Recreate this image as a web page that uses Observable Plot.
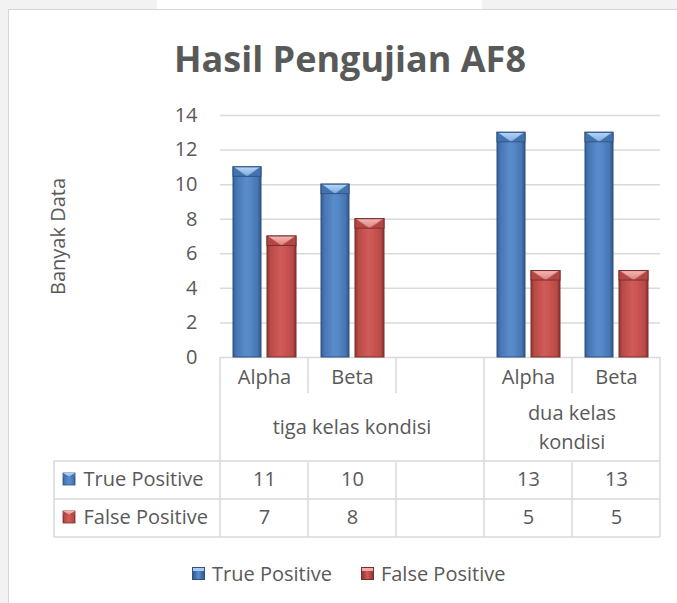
<!DOCTYPE html>
<html>
<head>
<meta charset="utf-8">
<script src="https://cdn.jsdelivr.net/npm/d3@7"></script>
<script src="https://cdn.jsdelivr.net/npm/@observablehq/plot@0.6"></script>
<style>
  html, body { margin: 0; padding: 0; }
  body { width: 677px; height: 603px; overflow: hidden; background: #f2f2f2; position: relative;
         font-family: "Open Sans", sans-serif; color: #595959; }
  #tab { position: absolute; left: 157px; top: 0; width: 325px; height: 10px; background: #fff; }
  #frame { position: absolute; left: 8px; top: 9px; width: 760px; height: 660px; background: #fff;
           border: 1.5px solid #d6d6d6; box-sizing: border-box; }
  #title { position: absolute; left: 0; width: 700px; top: 41px; text-align: center;
           font-weight: 700; font-size: 36px; line-height: 36px; color: #595959; }
  #chart { position: absolute; left: 0; top: 0; }
  #legend { position: absolute; left: 192px; top: 560px; height: 26px; display: flex; align-items: center;
            font-size: 20px; color: #595959; white-space: nowrap; }
  .sw { width: 13px; height: 13px; margin-right: 7px; box-sizing: border-box; }
  .item { display: flex; align-items: center; margin-right: 29px; }
</style>
</head>
<body>
<div id="tab"></div>
<div id="frame"></div>
<div id="chart"></div>
<div id="title">Hasil Pengujian AF8</div>
<div id="legend"></div>
<script>
// ---- data ----
const groups = ["tiga kelas kondisi", "tiga kelas kondisi", "tiga kelas kondisi", "dua kelas kondisi", "dua kelas kondisi"];
const subLabels = ["Alpha", "Beta", "", "Alpha", "Beta"];
const series = ["True Positive", "False Positive"];
const truePositive = [11, 10, null, 13, 13];
const falsePositive = [7, 8, null, 5, 5];
const yTicks = [0, 2, 4, 6, 8, 10, 12, 14];
const yTitle = "Banyak Data";

// ---- styling ----
const textColor = "#595959";
const lineColor = "#d9d9d9";
const seriesStyle = {
  "True Positive": { grad: "url(#gBlue)", cap: "url(#capBlue)", stroke: "#2f5183", insetLeft: 13, insetRight: 47,
                     css: "linear-gradient(to bottom, #a9cbf3 0 30%, transparent 30%), linear-gradient(to right, #2f5a92, #5b8dcc 50%, #2f5a92)", border: "#2f5183" },
  "False Positive": { grad: "url(#gRed)", cap: "url(#capRed)", stroke: "#7a2e2c", insetLeft: 47, insetRight: 12,
                      css: "linear-gradient(to bottom, #f0aeab 0 30%, transparent 30%), linear-gradient(to right, #8e3533, #d05a57 50%, #8e3533)", border: "#7a2e2c" }
};

const slotKeys = groups.map((g, i) => g + "|" + subLabels[i] + "|" + i);
const valuesBySeries = { "True Positive": truePositive, "False Positive": falsePositive };
function rowsFor(name) {
  return slotKeys.map((k, i) => ({ slot: k, value: valuesBySeries[name][i], series: name }))
                 .filter(d => d.value != null);
}

function defsMark() {
  const defs = d3.create("svg:defs");
  function barGrad(id, stops) {
    const g = defs.append("linearGradient").attr("id", id).attr("x1", 0).attr("x2", 1).attr("y1", 0).attr("y2", 0);
    stops.forEach(([o, c]) => g.append("stop").attr("offset", o).attr("stop-color", c));
  }
  barGrad("gBlue", [[0, "#355f95"], [0.12, "#4676b2"], [0.45, "#5a8bca"], [0.6, "#5688c8"], [0.88, "#4676b2"], [1, "#2f5485"]]);
  barGrad("gRed", [[0, "#8f3634"], [0.12, "#b94a47"], [0.45, "#d05b58"], [0.6, "#cc5653"], [0.88, "#b94a47"], [1, "#86312f"]]);
  function capPattern(id, side, light1, light2) {
    const vg = defs.append("linearGradient").attr("id", id + "L").attr("x1", 0).attr("x2", 0).attr("y1", 0).attr("y2", 1);
    vg.append("stop").attr("offset", 0).attr("stop-color", light1);
    vg.append("stop").attr("offset", 1).attr("stop-color", light2);
    const p = defs.append("pattern").attr("id", id).attr("patternContentUnits", "objectBoundingBox")
      .attr("width", 1).attr("height", 1);
    p.append("rect").attr("width", 1).attr("height", 1).attr("fill", side);
    p.append("polygon").attr("points", "0.03,0 0.97,0 0.5,1").attr("fill", `url(#${id}L)`);
  }
  capPattern("capBlue", "#4273ae", "#b8d6f7", "#7eaae0");
  capPattern("capRed", "#b44744", "#f4b9b6", "#dc7f7c");
  return defs.node();
}

function tableMark(index, scales, values, dimensions) {
  const left = dimensions.marginLeft;
  const right = dimensions.width - dimensions.marginRight;
  const y0 = dimensions.height - dimensions.marginBottom;
  const x = scales.x;
  const bw = (x && x.bandwidth) ? x.bandwidth() : (right - left) / slotKeys.length;
  const xs = (k, i) => { const v = x ? x(k) : undefined; return (typeof v === "number") ? v : left + i * bw; };
  const edges = slotKeys.map((k, i) => xs(k, i)).concat([xs(slotKeys[slotKeys.length - 1], slotKeys.length - 1) + bw]);
  const tTop = y0 + 104, tMid = y0 + 142, tBot = y0 + 180, labelLeft = left - 166;
  const g = d3.create("svg:g");
  const lines = g.append("g").attr("stroke", lineColor).attr("stroke-width", 1.5).attr("fill", "none");
  const line = (x1, y1, x2, y2) => lines.append("line").attr("x1", x1).attr("y1", y1).attr("x2", x2).attr("y2", y2);
  edges.forEach((ex, i) => {
    const isGroupEdge = i === 0 || i === slotKeys.length || groups[i] !== groups[i - 1];
    line(ex, y0, ex, isGroupEdge ? tTop : y0 + 36);
    line(ex, tTop, ex, tBot);
  });
  line(labelLeft, tTop, labelLeft, tBot);
  [tTop, tMid, tBot].forEach(yy => line(labelLeft, yy, right, yy));
  const uniq = Array.from(new Set(groups));
  const txt = g.append("g").attr("fill", textColor).attr("font-size", 20).attr("text-anchor", "middle");
  uniq.forEach(name => {
    const idx = groups.map((gg, i) => gg === name ? i : -1).filter(i => i >= 0);
    const cx = (edges[idx[0]] + edges[idx[idx.length - 1] + 1]) / 2;
    const words = name.split(" ");
    if (idx.length >= 3) {
      txt.append("text").attr("x", cx).attr("y", y0 + 70).attr("dy", "0.35em").text(name);
    } else {
      txt.append("text").attr("x", cx).attr("y", y0 + 56).attr("dy", "0.35em").text(words.slice(0, -1).join(" "));
      txt.append("text").attr("x", cx).attr("y", y0 + 85).attr("dy", "0.35em").text(words[words.length - 1]);
    }
  });
  series.forEach((s, j) => {
    const cy = y0 + 122 + j * 38;
    const st = seriesStyle[s];
    g.append("rect").attr("x", left - 157).attr("y", cy - 6).attr("width", 12).attr("height", 12)
      .attr("fill", st.grad).attr("stroke", st.stroke).attr("stroke-width", 0.8);
    g.append("rect").attr("x", left - 157).attr("y", cy - 6).attr("width", 12).attr("height", 4)
      .attr("fill", st.cap);
  });
  return g.node();
}

const marks = [
  defsMark,
  Plot.gridY(yTicks, { stroke: lineColor, strokeOpacity: 1, strokeWidth: 1.5 }),
  Plot.axisY(yTicks, { tickSize: 0, tickPadding: 23, label: null, fontSize: 20, fill: textColor }),
  Plot.text([yTitle], { frameAnchor: "left", dx: -162, rotate: -90, textAnchor: "middle", lineAnchor: "middle",
                        fontSize: 20, fill: textColor }),
  tableMark
];
series.forEach(s => {
  const st = seriesStyle[s];
  const rows = rowsFor(s);
  marks.push(Plot.barY(rows, { x: "slot", y: "value", fill: st.grad, stroke: st.stroke, strokeWidth: 1,
                               insetLeft: st.insetLeft, insetRight: st.insetRight }));
  marks.push(Plot.barY(rows, { x: "slot", y1: d => d.value - 0.55, y2: "value", fill: st.cap, stroke: st.stroke, strokeWidth: 1,
                               insetLeft: st.insetLeft, insetRight: st.insetRight }));
});
marks.push(Plot.text(slotKeys.map((k, i) => ({ slot: k, label: subLabels[i] })).filter(d => d.label),
  { x: "slot", text: "label", frameAnchor: "bottom", lineAnchor: "middle", dy: 20, fontSize: 20, fill: textColor }));
series.forEach((s, j) => {
  marks.push(Plot.text(rowsFor(s), { x: "slot", text: d => String(d.value), frameAnchor: "bottom", lineAnchor: "middle",
                                     dy: 122 + j * 38, fontSize: 20, fill: textColor }));
  marks.push(Plot.text([s], { frameAnchor: "bottom-left", lineAnchor: "middle", dx: -137, dy: 122 + j * 38,
                              textAnchor: "start", fontSize: 20, fill: textColor }));
});

const chart = Plot.plot({
  width: 677, height: 603,
  marginLeft: 220, marginRight: 17, marginTop: 115, marginBottom: 246,
  style: { fontFamily: "Open Sans", fontSize: "20px", color: textColor, background: "transparent", overflow: "visible" },
  x: { type: "band", domain: slotKeys, padding: 0, axis: null },
  y: { domain: [0, 14], axis: null },
  marks
});
document.getElementById("chart").appendChild(chart);

const legend = document.getElementById("legend");
series.forEach(s => {
  const st = seriesStyle[s];
  const item = document.createElement("div");
  item.className = "item";
  const sw = document.createElement("div");
  sw.className = "sw";
  sw.style.background = st.css;
  sw.style.border = "1px solid " + st.border;
  const label = document.createElement("span");
  label.textContent = s;
  item.appendChild(sw);
  item.appendChild(label);
  legend.appendChild(item);
});
</script>
</body>
</html>
